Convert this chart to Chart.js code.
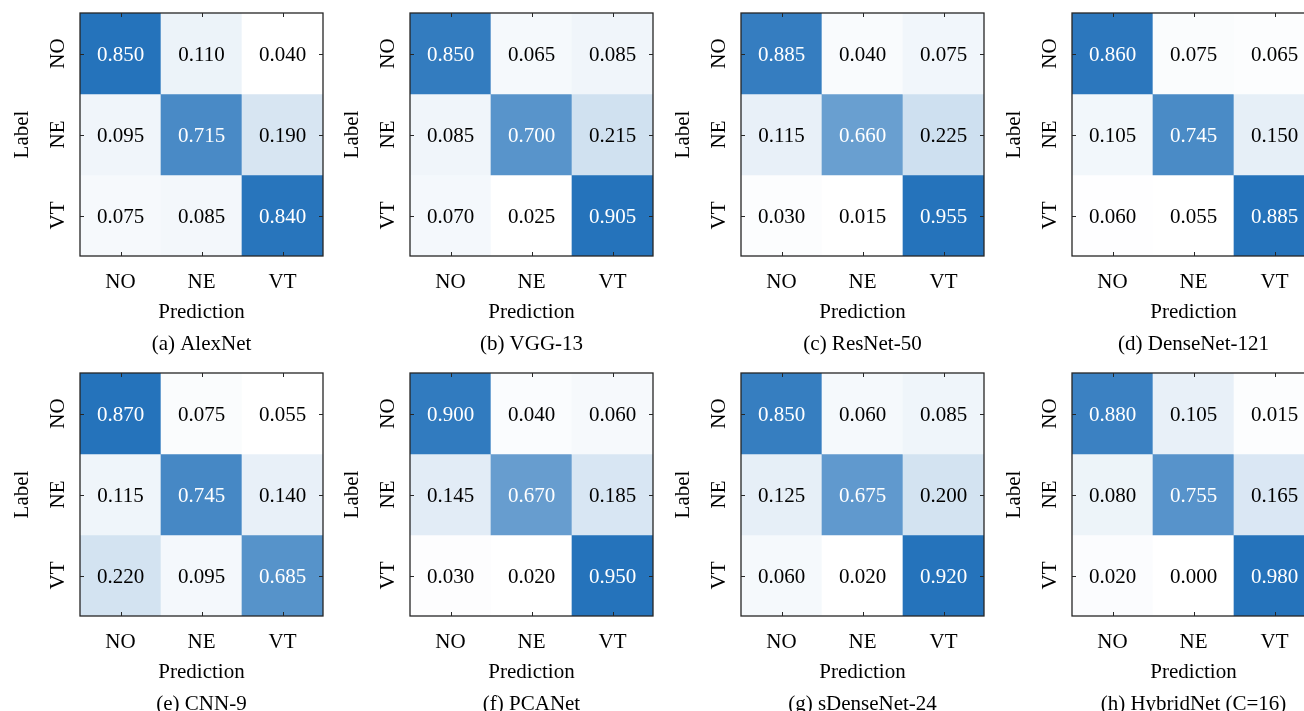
<!DOCTYPE html>
<html>
<head>
<meta charset="utf-8">
<script src="https://cdn.jsdelivr.net/npm/chart.js@4.4.0/dist/chart.umd.min.js"></script>
<style>
html,body{margin:0;padding:0;background:#fff;width:1304px;height:711px;overflow:hidden;position:relative}
canvas{position:absolute;display:block}
</style>
</head>
<body>
<script>
// ---- data ----
const predictionLabels = ['NO', 'NE', 'VT'];
const trueLabels = ['NO', 'NE', 'VT'];
const captions = ['(a) AlexNet', '(b) VGG-13', '(c) ResNet-50', '(d) DenseNet-121',
                  '(e) CNN-9', '(f) PCANet', '(g) sDenseNet-24', '(h) HybridNet (C=16)'];
const alexNet      = [[0.850, 0.110, 0.040], [0.095, 0.715, 0.190], [0.075, 0.085, 0.840]];
const vgg13        = [[0.850, 0.065, 0.085], [0.085, 0.700, 0.215], [0.070, 0.025, 0.905]];
const resNet50     = [[0.885, 0.040, 0.075], [0.115, 0.660, 0.225], [0.030, 0.015, 0.955]];
const denseNet121  = [[0.860, 0.075, 0.065], [0.105, 0.745, 0.150], [0.060, 0.055, 0.885]];
const cnn9         = [[0.870, 0.075, 0.055], [0.115, 0.745, 0.140], [0.220, 0.095, 0.685]];
const pcaNet       = [[0.900, 0.040, 0.060], [0.145, 0.670, 0.185], [0.030, 0.020, 0.950]];
const sDenseNet24  = [[0.850, 0.060, 0.085], [0.125, 0.675, 0.200], [0.060, 0.020, 0.920]];
const hybridNet    = [[0.880, 0.105, 0.015], [0.080, 0.755, 0.165], [0.020, 0.000, 0.980]];
const matrices = [alexNet, vgg13, resNet50, denseNet121, cnn9, pcaNet, sDenseNet24, hybridNet];

// ---- layout / style ----
const FONT = "'Liberation Serif', 'Times New Roman', serif";
const FS = 21;
const panelLeft = [0, 330, 661, 992];
const panelTop = [0, 360];
const PW = 330, PH = 360;
const DARK = [37, 115, 187];

const framePlugin = {
  id: 'frame',
  afterDatasetsDraw(chart) {
    const ctx = chart.ctx;
    chart.data.datasets.forEach((ds, di) => {
      const meta = chart.getDatasetMeta(di);
      meta.data.forEach((el, i) => {
        const v = ds.values[i];
        const cy = (el.y + el.base) / 2 + 2;
        ctx.save();
        ctx.font = FS + 'px ' + FONT;
        ctx.textAlign = 'center';
        ctx.textBaseline = 'middle';
        ctx.fillStyle = ds.norm[i] > 0.5 ? '#ffffff' : '#000000';
        ctx.fillText(v.toFixed(3), el.x, cy);
        ctx.restore();
      });
    });
  },
  afterDraw(chart) {
    const ctx = chart.ctx;
    const a = chart.chartArea;
    const xs = chart.scales.x, ys = chart.scales.y;
    ctx.save();
    ctx.strokeStyle = '#262626';
    ctx.lineWidth = 1.3;
    ctx.strokeRect(a.left, a.top, a.right - a.left, a.bottom - a.top);
    ctx.lineWidth = 1;
    const L = 4;
    ctx.beginPath();
    xs.ticks.forEach((t, i) => {
      const px = Math.round(xs.getPixelForTick(i)) + 0.5;
      ctx.moveTo(px, a.bottom); ctx.lineTo(px, a.bottom - L);
      ctx.moveTo(px, a.top); ctx.lineTo(px, a.top + L);
    });
    ys.ticks.forEach((t, i) => {
      const py = Math.round(ys.getPixelForTick(i)) + 0.5;
      ctx.moveTo(a.left, py); ctx.lineTo(a.left + L, py);
      ctx.moveTo(a.right, py); ctx.lineTo(a.right - L, py);
    });
    ctx.stroke();
    ctx.restore();
  }
};

function zeroPad(s) { s.paddingLeft = 0; s.paddingRight = 0; s.paddingTop = 0; s.paddingBottom = 0; }

matrices.forEach((matrix, k) => {
  const col = k % 4, row = Math.floor(k / 4);
  const cv = document.createElement('canvas');
  cv.width = PW; cv.height = PH;
  cv.style.left = panelLeft[col] + 'px';
  cv.style.top = panelTop[row] + 'px';
  cv.style.width = PW + 'px'; cv.style.height = PH + 'px';
  document.body.appendChild(cv);

  const vals = matrix.flat();
  const vmin = Math.min(...vals), vmax = Math.max(...vals);
  const norm = v => (v - vmin) / (vmax - vmin);
  const colorOf = v => {
    const t = norm(v);
    return 'rgb(' + DARK.map(c => Math.round(255 - (255 - c) * t)).join(',') + ')';
  };

  const datasets = matrix.map((rowVals, r) => ({
    label: trueLabels[r],
    data: rowVals.map(() => [r, r + 1]),
    values: rowVals,
    norm: rowVals.map(norm),
    backgroundColor: rowVals.map(colorOf),
    borderWidth: 0,
    borderSkipped: false,
    grouped: false,
    barPercentage: 1,
    categoryPercentage: 1
  }));

  const font = { family: FONT, size: FS, weight: 'normal', lineHeight: 1.2 };

  new Chart(cv, {
    type: 'bar',
    data: { labels: predictionLabels, datasets },
    plugins: [framePlugin],
    options: {
      responsive: false,
      animation: false,
      devicePixelRatio: 1,
      layout: { padding: { top: 13, right: 7, left: 0, bottom: 0 } },
      plugins: {
        legend: { display: false },
        tooltip: { enabled: false },
        title: {
          display: true, text: captions[k], position: 'bottom', fullSize: false,
          color: '#000', font, padding: { top: 2.8, bottom: 3.4 }
        }
      },
      scales: {
        x: {
          type: 'category', offset: true,
          grid: { display: false, drawTicks: false },
          border: { display: false },
          ticks: { color: '#000', font, padding: 13.8, maxRotation: 0, minRotation: 0, autoSkip: false },
          title: { display: true, text: 'Prediction', color: '#000', font, padding: { top: 0, bottom: 3.6 } },
          afterFit(s) { s.height = 72.6; zeroPad(s); }
        },
        y: {
          type: 'linear', min: 0, max: 3, reverse: true,
          grid: { display: false, drawTicks: false },
          border: { display: false },
          afterBuildTicks(s) { s.ticks = trueLabels.map((_, i) => ({ value: i + 0.5 })); },
          ticks: {
            color: '#000', font, padding: 6.5, minRotation: 90, maxRotation: 90,
            crossAlign: 'center', autoSkip: false,
            callback: (v) => trueLabels[Math.floor(v)]
          },
          title: { display: true, text: 'Label', color: '#000', font, padding: { top: 10, bottom: 0 } },
          afterFit(s) { s.width = 80; zeroPad(s); }
        }
      }
    }
  });
});
</script>
</body>
</html>
